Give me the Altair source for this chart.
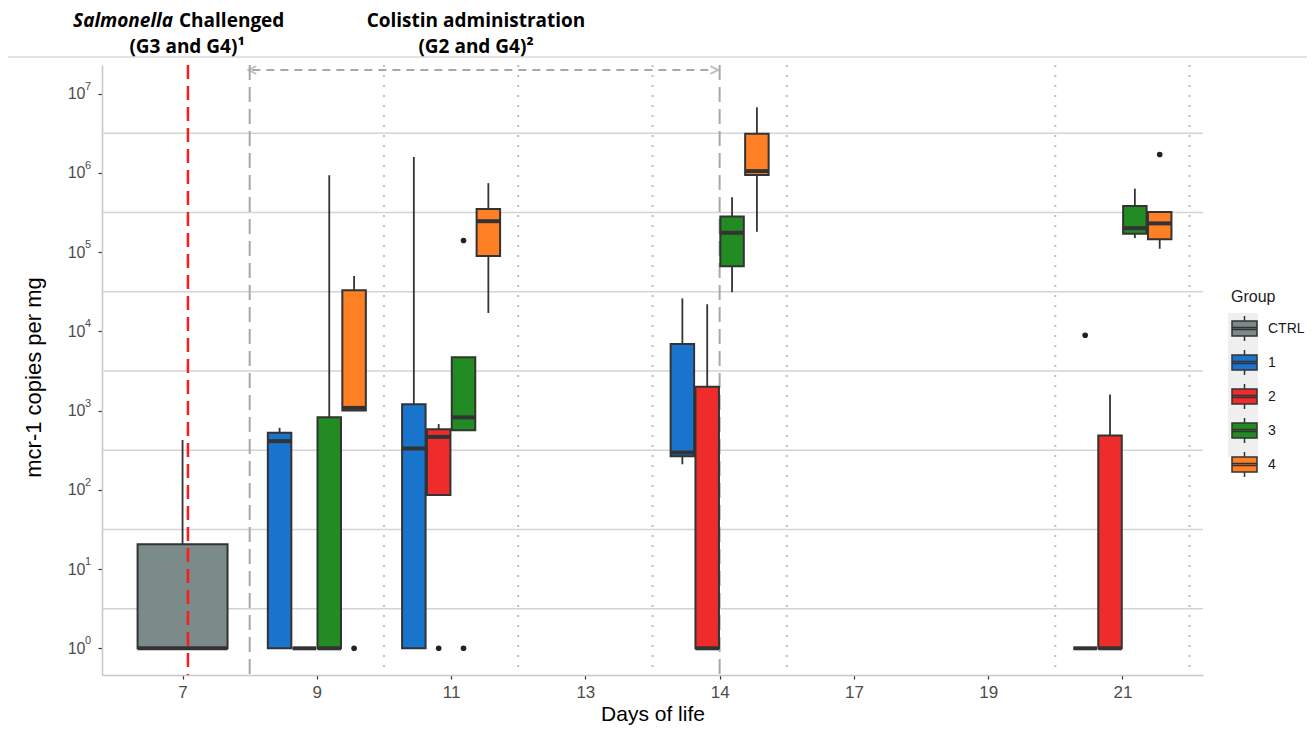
import altair as alt
import pandas as pd

# ---------------- data ----------------
DAYS = ["7", "9", "11", "13", "14", "17", "19", "21"]
GROUPS = ["CTRL", "1", "2", "3", "4"]
COLORS = ["#7B8B89", "#1874CD", "#EE2C2C", "#228B22", "#FF7F24"]

BOX_DAY   = ["7", "9", "9", "9", "9", "11", "11", "11", "11", "14", "14", "14", "14", "21", "21", "21", "21"]
BOX_GROUP = ["CTRL", "1", "2", "3", "4", "1", "2", "3", "4", "1", "2", "3", "4", "1", "2", "3", "4"]
BOX_LO  = [1, 1, 1, 1, 1000, 1, 86, 565, 1.7e4, 210, 1, 3.1e4, 1.8e5, 1, 1, 1.5e5, 1.1e5]
BOX_Q1  = [1, 1, 1, 1, 1000, 1, 86, 565, 8.9e4, 265, 1, 6.6e4, 9.4e5, 1, 1, 1.7e5, 1.45e5]
BOX_MED = [1, 411, 1, 1, 1080, 332, 465, 820, 2.45e5, 295, 1, 1.75e5, 1.05e6, 1, 1, 2.0e5, 2.3e5]
BOX_Q3  = [20.5, 525, 1, 820, 3.3e4, 1200, 582, 4700, 3.5e5, 6900, 2000, 2.8e5, 3.1e6, 1, 485, 3.8e5, 3.2e5]
BOX_HI  = [425, 605, 1, 9.3e5, 5.0e4, 1.58e6, 675, 4700, 7.4e5, 2.6e4, 2.2e4, 4.9e5, 6.7e6, 1, 1590, 6.3e5, 3.2e5]

OUT_DAY   = ["9", "11", "11", "11", "21", "21"]
OUT_GROUP = ["4", "2", "3", "3", "1", "4"]
OUT_VALUE = [1, 1, 1, 1.4e5, 8.9e3, 1.7e6]

DECADES = [0, 1, 2, 3, 4, 5, 6, 7]
SUPERSCRIPTS = ["0", "1", "2", "3", "4", "5", "6", "7"]

SEPARATORS = [1.5, 2.5, 3.5, 4.5, 6.5, 7.5]   # dotted vertical lines between days
PHASE_LINES = [0.5, 4.0]                      # grey long-dashed lines
CHALLENGE_LINE = [0.04]                       # red dashed line

# ---------------- layout constants ----------------
DODGE = 0.185
HALF_W = 0.0875
CTRL_HALF_W = 0.335
W, H = 1101, 610
INK = "#333333"
FONT = "Liberation Sans"
ANN_FONT = "Open Sans"

def slot_center(day, group):
    idx = DAYS.index(day)
    if group == "CTRL":
        return idx
    return idx + DODGE * (int(group) - 2.5)

boxes = pd.DataFrame({
    "day": BOX_DAY, "group": BOX_GROUP, "lo": BOX_LO, "q1": BOX_Q1,
    "med": BOX_MED, "q3": BOX_Q3, "hi": BOX_HI,
})
boxes["xc"] = [slot_center(d, g) for d, g in zip(BOX_DAY, BOX_GROUP)]
boxes["hw"] = [CTRL_HALF_W if g == "CTRL" else HALF_W for g in BOX_GROUP]
boxes["xl"] = boxes["xc"] - boxes["hw"]
boxes["xr"] = boxes["xc"] + boxes["hw"]

outs = pd.DataFrame({"day": OUT_DAY, "group": OUT_GROUP, "value": OUT_VALUE})
outs["xc"] = [slot_center(d, g) for d, g in zip(OUT_DAY, OUT_GROUP)]

grid = pd.DataFrame({"y": [10 ** (k + 0.5) for k in range(7)]})
exps = pd.DataFrame({"v": [10 ** k for k in DECADES], "e": SUPERSCRIPTS})

XS = alt.Scale(domain=[-0.6, 7.6], nice=False, zero=False)
YS = alt.Scale(type="log", domain=[10 ** -0.337, 10 ** 7.36], nice=False)

label_expr_x = "[" + ",".join("'%s'" % d for d in DAYS) + "][round(datum.value)]"
XA = alt.Axis(values=list(range(len(DAYS))), labelExpr=label_expr_x, grid=False,
              domainColor="#C8C8C8", domainWidth=1.5, tickColor=INK, tickSize=4, tickWidth=1.2,
              labelColor="#4D4D4D", labelFont=FONT, labelFontSize=17, labelPadding=5,
              titleFont=FONT, titleFontSize=21, titleFontWeight="normal", titleColor="#000000",
              titlePadding=3)
YA = alt.Axis(values=[10 ** k for k in DECADES], labelExpr="'10'",
              grid=False, domainColor="#C8C8C8", domainWidth=1.5, tickColor=INK, tickSize=4,
              tickWidth=1.2, labelColor="#4D4D4D", labelFont=FONT, labelFontSize=16, labelPadding=13,
              titleFont=FONT, titleFontSize=22, titleFontWeight="normal", titleColor="#000000",
              titlePadding=22, titleY=312)

XT = "Days of life"
YT = "mcr-1 copies per mg"

def X(field, **kw):
    return alt.X(field, type="quantitative", scale=XS, axis=XA, title=XT, **kw)

def Y(field, **kw):
    return alt.Y(field, type="quantitative", scale=YS, axis=YA, title=YT, **kw)

# gridlines (half-decades)
grid_layer = alt.Chart(grid).mark_rule(color="#D4D4D4", strokeWidth=1.5).encode(y=Y("y"))

exp_layer = alt.Chart(exps).mark_text(font=FONT, fontSize=11, align="left", baseline="middle",
                                      color="#4D4D4D", dy=-7).encode(
    y=Y("v"), x=alt.value(-17), text="e:N")

sep_layer = alt.Chart(pd.DataFrame({"x": SEPARATORS})).mark_rule(
    color="#BDBDBD", strokeWidth=2, strokeDash=[2, 8]).encode(x=X("x"))

phase_layer = alt.Chart(pd.DataFrame({"x": PHASE_LINES})).mark_rule(
    color="#A8A8A8", strokeWidth=2, strokeDash=[15, 7]).encode(x=X("x"))

whisk = alt.Chart(boxes).mark_rule(color=INK, strokeWidth=1.8).encode(
    x=X("xc"), y=Y("lo"), y2="hi")

legend_path = ("M0,-1V-0.6 M-1,-0.6H1V0.6H-1Z M-1,-0.08H1V0.08H-1Z M0,0.6V1")
box_layer = alt.Chart(boxes).mark_bar(stroke=INK, strokeWidth=2).encode(
    x=X("xl"), x2="xr", y=Y("q1"), y2="q3",
    color=alt.Color("group:N", scale=alt.Scale(domain=GROUPS, range=COLORS),
                    legend=alt.Legend(title="Group", orient="none", legendX=1129, legendY=224,
                                      symbolType=legend_path, symbolSize=625,
                                      symbolStrokeColor=INK, symbolStrokeWidth=1.5,
                                      rowPadding=3, labelOffset=10, titlePadding=10,
                                      labelFont=FONT, labelFontSize=14, labelColor="#1A1A1A",
                                      titleFont=FONT, titleFontSize=16, titleFontWeight="normal",
                                      titleColor="#1A1A1A", padding=0)))

med_layer = alt.Chart(boxes).mark_rule(color=INK, strokeWidth=4).encode(
    x=X("xl"), x2="xr", y=Y("med"))

out_layer = alt.Chart(outs).mark_circle(color="#222222", size=32, opacity=1).encode(
    x=X("xc"), y=Y("value"))

red_layer = alt.Chart(pd.DataFrame({"x": CHALLENGE_LINE})).mark_rule(
    color="#FF1A1A", strokeWidth=2.5, strokeDash=[14, 7]).encode(x=X("x"))

# colistin arrow
arrow_df = pd.DataFrame({"x1": [0.52], "x2": [3.96]})
arrow_line = alt.Chart(arrow_df).mark_rule(color="#A8A8A8", strokeWidth=2, strokeDash=[8, 6]).encode(
    x=X("x1"), x2="x2", y=alt.value(5))
heads = pd.DataFrame({"x": [0.52, 3.96], "shape": ["M1,-1L-1,0L1,1", "M-1,-1L1,0L-1,1"]})
head_layer = alt.Chart(heads).mark_point(color="#A8A8A8", filled=False, strokeWidth=2, size=60).encode(
    x=X("x"), y=alt.value(5), shape=alt.Shape("shape:N", scale=None))

# top decoration line
top_line = alt.Chart(pd.DataFrame({"a": [0]})).mark_rule(color="#D9D9D9", strokeWidth=1.5).encode(
    x=alt.value(-94), x2=alt.value(1205), y=alt.value(-8))

# legend key background (ggplot grey key panel)
key_bg = alt.Chart(pd.DataFrame({"a": [0]})).mark_rect(color="#EFEFEF").encode(
    x=alt.value(1126), x2=alt.value(1156), y=alt.value(248), y2=alt.value(392))

def txt(s, x, y, align="center", italic=False):
    return alt.Chart(pd.DataFrame({"t": [s]})).mark_text(
        font=ANN_FONT, fontSize=19, fontWeight="bold", fontStyle="italic" if italic else "normal",
        align=align, baseline="middle", color="#000000").encode(
        text="t:N", x=alt.value(x), y=alt.value(y))

texts = [
    txt("Salmonella", 71, -44, align="right", italic=True),
    txt("Challenged", 77, -44, align="left"),
    txt("(G3 and G4)\u00b9", 85, -18),
    txt("Colistin administration", 374, -44),
    txt("(G2 and G4)\u00b2", 374, -18),
]

chart = alt.layer(
    grid_layer, key_bg, sep_layer, phase_layer, whisk, box_layer, med_layer, out_layer,
    red_layer, arrow_line, head_layer, top_line, exp_layer, *texts
).properties(
    width=W, height=H,
    autosize=alt.AutoSizeParams(type="none"),
    padding={"left": 94, "top": 57, "right": 104, "bottom": 50},
).configure_view(stroke=None)

chart.save("out.html", embed_options={"renderer": "svg", "actions": False})
